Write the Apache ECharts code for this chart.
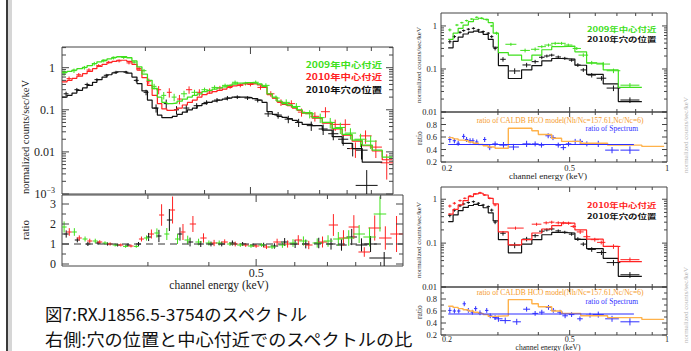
<!DOCTYPE html>
<html><head><meta charset="utf-8">
<script src="https://cdn.jsdelivr.net/npm/echarts@6.0.0/dist/echarts.min.js"></script>
<style>html,body{margin:0;padding:0;background:#fff;overflow:hidden}#chart{width:691px;height:351px}</style>
</head><body><div id="chart"></div>
<script>
// ================= DATA =================
// ---- left big panel (channel energy keV) ----
const leftEdges = [0.200,0.205,0.210,0.215,0.221,0.226,0.232,0.237,0.243,0.249,0.255,0.261,0.268,0.274,0.281,0.288,0.295,0.303,0.310,0.318,0.325,0.333,0.342,0.350,0.359,0.368,0.377,0.386,0.395,0.405,0.415,0.425,0.436,0.446,0.457,0.469,0.480,0.492,0.504,0.517,0.529,0.542,0.556,0.569,0.583,0.598,0.613,0.628,0.643,0.675,0.709,0.744,0.781,0.820,0.861,0.904,0.949,0.996];
const greenModel = [0.78,0.82,0.88,0.95,1.02,1.12,1.25,1.38,1.5,1.62,1.75,1.82,1.82,1.72,1.45,1.05,0.7,0.5,0.32,0.2,0.15,0.14,0.145,0.16,0.18,0.2,0.22,0.24,0.27,0.29,0.31,0.33,0.35,0.38,0.41,0.43,0.44,0.44,0.43,0.41,0.36,0.24,0.2,0.16,0.14,0.13,0.115,0.1,0.085,0.065,0.05,0.036,0.026,0.019,0.0145,0.011,0.0075];
const redModel = [0.46,0.5,0.56,0.63,0.72,0.82,0.95,1.07,1.2,1.32,1.42,1.5,1.5,1.42,1.2,0.88,0.58,0.38,0.22,0.14,0.105,0.097,0.1,0.11,0.13,0.15,0.17,0.2,0.23,0.25,0.27,0.29,0.31,0.34,0.37,0.39,0.41,0.42,0.41,0.39,0.34,0.23,0.19,0.155,0.135,0.125,0.11,0.097,0.083,0.063,0.048,0.035,0.025,0.018,0.014,0.0105,0.0065];
const blackModel = [0.2,0.22,0.25,0.29,0.33,0.38,0.45,0.52,0.6,0.68,0.75,0.8,0.8,0.74,0.6,0.42,0.28,0.17,0.11,0.075,0.065,0.065,0.07,0.078,0.088,0.1,0.11,0.125,0.14,0.15,0.16,0.17,0.18,0.19,0.2,0.2,0.2,0.195,0.185,0.17,0.15,0.09,0.078,0.07,0.066,0.062,0.056,0.05,0.045,0.042,0.033,0.023,0.016,0.012,0.0057,0.0057,null];

const greenE = [0.202,0.212,0.223,0.234,0.245,0.257,0.270,0.284,0.298,0.313,0.328,0.345,0.362,0.381,0.400,0.420,0.442,0.464,0.488,0.513,0.539,0.566,0.595,0.625,0.667,0.702,0.737,0.774,0.813,0.854,0.897];
const greenV = [0.75,0.85,1.0,1.25,1.45,1.7,1.75,1.35,0.85,0.36,0.22,0.2,0.24,0.26,0.3,0.34,0.38,0.45,0.42,0.45,0.38,0.19,0.15,0.12,0.08,0.065,0.05,0.038,0.028,0.02,0.018];
const greenErr = [0.15,0.12,0.1,0.1,0.08,0.08,0.08,0.08,0.1,0.15,0.2,0.2,0.18,0.15,0.12,0.12,0.1,0.1,0.1,0.1,0.12,0.15,0.18,0.2,0.22,0.25,0.28,0.3,0.3,0.35,0.35];
const greenW = [0.012,0.012,0.012,0.012,0.012,0.012,0.012,0.012,0.012,0.012,0.012,0.012,0.015,0.015,0.015,0.015,0.015,0.015,0.015,0.015,0.018,0.018,0.018,0.02,0.022,0.022,0.025,0.025,0.028,0.03,0.03];
const greenRatio = [1.85,1.6,1.25,1.15,1.05,0.95,0.88,0.88,1.3,1.55,1.5,1.25,1.2,1.1,1.05,1.05,1.0,0.95,0.9,0.95,0.85,0.95,1.05,1.15,1.05,1.15,1.25,1.3,1.5,1.35,2.5];

const redE = [0.207,0.217,0.228,0.239,0.251,0.264,0.277,0.291,0.305,0.320,0.337,0.354,0.371,0.390,0.410,0.431,0.453,0.476,0.500,0.525,0.552,0.580,0.610,0.641,0.684,0.720,0.755,0.793,0.833,0.875,0.920,0.970];
const redV = [0.55,0.68,0.88,1.12,1.35,1.45,1.3,0.95,0.48,0.3,0.26,0.18,0.3,0.26,0.28,0.33,0.36,0.38,0.4,0.34,0.24,0.15,0.14,0.088,0.07,0.09,0.045,0.045,0.012,0.024,0.013,0.0055];
const redErr = [0.12,0.1,0.1,0.08,0.08,0.08,0.08,0.1,0.15,0.22,0.25,0.25,0.2,0.18,0.15,0.12,0.12,0.1,0.1,0.12,0.15,0.18,0.2,0.22,0.25,0.28,0.3,0.32,0.4,0.35,0.45,0.6];
const redW = [0.012,0.012,0.012,0.012,0.012,0.012,0.012,0.012,0.012,0.012,0.012,0.012,0.015,0.015,0.015,0.015,0.015,0.015,0.015,0.015,0.018,0.018,0.018,0.018,0.022,0.022,0.025,0.025,0.028,0.03,0.03,0.03];
const redRatio = [1.6,1.3,1.15,1.1,1.0,0.95,0.9,1.25,1.5,2.45,2.7,1.6,2.0,1.3,1.05,1.1,1.0,0.95,0.9,0.85,1.1,1.0,1.2,0.95,1.1,1.95,1.3,1.85,0.6,1.8,1.3,1.5];

const blackE = [0.204,0.215,0.226,0.237,0.248,0.260,0.273,0.287,0.301,0.316,0.332,0.349,0.366,0.385,0.404,0.425,0.447,0.469,0.493,0.518,0.545,0.572,0.601,0.632,0.672,0.712,0.748,0.785,0.822,0.858];
const blackV = [0.24,0.3,0.4,0.52,0.66,0.78,0.78,0.5,0.26,0.11,0.14,0.1,0.11,0.125,0.15,0.17,0.19,0.2,0.19,0.17,0.08,0.075,0.06,0.05,0.042,0.035,0.027,0.02,0.012,0.011];
const blackErr = [0.12,0.1,0.1,0.08,0.08,0.08,0.08,0.1,0.15,0.22,0.25,0.22,0.2,0.15,0.12,0.12,0.12,0.1,0.1,0.12,0.15,0.18,0.2,0.22,0.25,0.28,0.3,0.3,0.35,0.4];
const blackW = [0.012,0.012,0.012,0.012,0.012,0.012,0.012,0.012,0.012,0.012,0.012,0.012,0.015,0.015,0.015,0.015,0.015,0.015,0.015,0.015,0.018,0.018,0.018,0.018,0.022,0.022,0.025,0.025,0.028,0.03];
const blackRatio = [1.5,1.2,1.0,1.05,1.0,0.95,0.95,1.0,1.35,1.4,2.2,1.5,1.1,1.0,1.0,1.0,1.05,1.0,0.95,0.95,0.9,1.1,1.0,1.0,1.05,1.0,0.95,1.35,0.95,1.0];
// the single wide black point (low, centre, high)
const blackBigE = [0.834,0.88,0.928];
const blackBigV = [0.0004,0.0016,0.0037];
const blackBigRE = [0.853,0.915,0.948];
const blackBigR = [-0.2,0.3,0.6];
const refLineE = [0.2,1.0];
const refLevel = 1;

// ---- right panels ----
const rEdges = [0.2105,0.218,0.226,0.234,0.243,0.252,0.261,0.270,0.280,0.290,0.301,0.323,0.355,0.382,0.410,0.440,0.472,0.519,0.564,0.635,0.707,0.836];
const greenModelR = [0.49,0.68,0.88,1.05,1.26,1.43,1.51,1.43,1.19,0.68,0.24,0.21,0.16,0.21,0.28,0.33,0.34,0.25,0.136,0.095,0.0375];
const blackModelR = [0.31,0.44,0.55,0.65,0.72,0.76,0.72,0.64,0.49,0.32,0.12,0.06,0.095,0.12,0.155,0.175,0.17,0.122,0.075,0.045,0.0175];
const redModelR = [0.46,0.59,0.74,0.93,1.15,1.32,1.37,1.25,1.05,0.78,0.18,0.091,0.12,0.17,0.21,0.25,0.285,0.2,0.123,0.084,0.038];

const greenER = [0.213,0.224,0.232,0.240,0.249,0.258,0.267,0.277,0.287,0.297,0.329,0.364,0.391,0.410,0.430,0.451,0.472,0.495,0.526,0.551,0.585,0.635,0.683,0.768];
const greenVR = [0.81,1.05,1.19,1.33,1.45,1.59,1.51,1.4,1.0,0.68,0.375,0.27,0.287,0.33,0.36,0.395,0.395,0.36,0.30,0.21,0.14,0.13,0.091,0.042];
const greenErrR = [0.08,0.06,0.05,0.05,0.05,0.05,0.05,0.05,0.06,0.08,0.08,0.1,0.1,0.08,0.08,0.08,0.08,0.08,0.08,0.1,0.1,0.12,0.12,0.12];
const greenWR = [0.012,0.012,0.012,0.012,0.012,0.012,0.012,0.012,0.012,0.012,0.04,0.035,0.03,0.03,0.03,0.03,0.03,0.03,0.03,0.035,0.04,0.05,0.05,0.07];

const blackER = [0.213,0.220,0.229,0.235,0.243,0.252,0.261,0.270,0.280,0.287,0.294,0.311,0.338,0.368,0.391,0.410,0.425,0.440,0.461,0.483,0.507,0.530,0.551,0.585,0.627,0.683,0.768];
const blackVR = [0.43,0.565,0.71,0.78,0.84,0.88,0.81,0.74,0.68,0.565,0.30,0.168,0.09,0.124,0.148,0.187,0.2,0.21,0.19,0.177,0.16,0.124,0.095,0.072,0.061,0.036,0.019];
const blackErrR = [0.1,0.08,0.07,0.06,0.06,0.06,0.06,0.06,0.06,0.08,0.1,0.12,0.15,0.12,0.1,0.1,0.08,0.08,0.08,0.08,0.08,0.1,0.1,0.12,0.12,0.15,0.15];
const blackWR = [0.012,0.012,0.012,0.012,0.012,0.012,0.012,0.012,0.012,0.012,0.012,0.02,0.04,0.03,0.025,0.02,0.02,0.02,0.02,0.02,0.02,0.02,0.02,0.03,0.035,0.05,0.07];

const redER = [0.213,0.220,0.229,0.237,0.246,0.255,0.264,0.273,0.283,0.294,0.340,0.395,0.423,0.440,0.461,0.478,0.496,0.513,0.539,0.565,0.598,0.626,0.683,0.768];
const redVR = [0.70,0.81,0.93,1.05,1.19,1.32,1.41,1.25,1.05,0.74,0.22,0.27,0.29,0.30,0.29,0.29,0.285,0.24,0.18,0.14,0.12,0.104,0.084,0.042];
const redErrR = [0.08,0.07,0.06,0.05,0.05,0.05,0.05,0.05,0.05,0.07,0.08,0.08,0.08,0.08,0.08,0.08,0.08,0.08,0.1,0.1,0.1,0.1,0.12,0.12];
const redWR = [0.012,0.012,0.012,0.012,0.012,0.012,0.012,0.012,0.012,0.012,0.06,0.035,0.02,0.02,0.02,0.02,0.02,0.02,0.025,0.025,0.03,0.03,0.05,0.07];

const orangeEdges = [0.2105,0.218,0.226,0.234,0.243,0.252,0.261,0.270,0.280,0.294,0.323,0.382,0.400,0.440,0.472,0.541,0.655,0.836,0.98];
const orangeB = [0.59,0.57,0.55,0.54,0.52,0.5,0.48,0.46,0.44,0.42,0.74,0.70,0.64,0.58,0.53,0.50,0.47,0.45];
const orangeD = [0.68,0.66,0.64,0.62,0.6,0.58,0.56,0.54,0.51,0.52,0.79,0.72,0.67,0.6,0.56,0.52,0.49,0.46];

const blueEB = [0.213,0.220,0.226,0.235,0.240,0.246,0.251,0.258,0.273,0.283,0.294,0.312,0.335,0.368,0.391,0.409,0.429,0.444,0.461,0.478,0.496,0.520,0.539,0.565,0.613,0.676,0.768];
const blueVB = [0.56,0.54,0.50,0.61,0.56,0.54,0.54,0.52,0.56,0.43,0.49,0.47,0.44,0.49,0.49,0.47,0.62,0.59,0.47,0.43,0.49,0.53,0.53,0.49,0.49,0.39,0.39];
const blueED = [0.213,0.220,0.227,0.236,0.243,0.250,0.256,0.264,0.277,0.284,0.294,0.301,0.316,0.343,0.368,0.391,0.410,0.430,0.445,0.467,0.484,0.507,0.538,0.578,0.613,0.676,0.768];
const blueVD = [0.61,0.60,0.60,0.72,0.61,0.58,0.64,0.57,0.61,0.52,0.49,0.47,0.44,0.42,0.63,0.56,0.58,0.66,0.61,0.58,0.52,0.54,0.47,0.53,0.54,0.47,0.42];
const blueErr = [0.05,0.04,0.04,0.04,0.04,0.04,0.04,0.04,0.04,0.04,0.04,0.05,0.05,0.05,0.04,0.04,0.04,0.04,0.04,0.04,0.04,0.04,0.04,0.04,0.05,0.05,0.06];
const blueW = [0.012,0.012,0.012,0.012,0.012,0.012,0.012,0.012,0.012,0.015,0.02,0.03,0.04,0.03,0.025,0.02,0.02,0.02,0.02,0.02,0.02,0.02,0.02,0.03,0.04,0.05,0.07];
const blueLineE = [0.2105,0.79];
const blueLevelB = 0.48;
const blueLevelD = 0.55;

// legend labels
const legendLeft = ['2009年中心付近', '2010年中心付近', '2010年穴の位置'];
const legendA = ['2009年中心付近', '2010年穴の位置'];
const legendC = ['2010年中心付近', '2010年穴の位置'];

// axis tick values
const xMajorTicks = [0.5];
const xMinorTicks = [0.3,0.4,0.6,0.7,0.8,0.9];
const mult = [2,3,4,5,6,7,8,9];
const decadesLeft = [0.001,0.01,0.1,1];
const decadesRight = [0.01,0.1,1];

// ================= CHART =================
const SERIF = '"Liberation Serif", "Times New Roman", serif';
const CJK = '"Noto Sans CJK JP", sans-serif';
const C_GREEN = '#3fe01c', C_RED = '#ff2222', C_BLACK = '#111', C_ORANGE = '#ffb24a', C_BLUE = '#2f2fff', C_AX = '#444';

function minorLog(decs, maxV) {
  const out = [];
  decs.forEach(d => mult.forEach(m => { const v = m * d; if (v < maxV) out.push(v); }));
  return out;
}
function stepData(edges, vals) {
  const out = [];
  for (let i = 0; i < vals.length; i++) {
    const v = vals[i];
    if (v == null) { out.push([edges[i], '-']); continue; }
    out.push([edges[i], v]);
    if (i === vals.length - 1 || vals[i + 1] == null) { out.push([edges[i + 1], v]); out.push([edges[i + 1], '-']); }
  }
  return out;
}
function buildRel(E, V, W, R, floor) {
  return E.map((e, i) => [e, V[i], e / (1 + W[i]), e * (1 + W[i]), Math.max(V[i] * (1 - R[i]), floor), V[i] * (1 + R[i])]);
}
function buildAbs(E, V, W, A) {
  return E.map((e, i) => [e, V[i], e / (1 + W[i]), e * (1 + W[i]), V[i] - A[i], V[i] + A[i]]);
}
function crosses(gi, items, color, lw) {
  return {
    type: 'custom', xAxisIndex: gi, yAxisIndex: gi, clip: true, silent: true, animation: false,
    data: items, encode: { x: 0, y: 1 },
    renderItem(params, api) {
      const c = api.coord([api.value(0), api.value(1)]);
      const l = api.coord([api.value(2), api.value(1)]);
      const r = api.coord([api.value(3), api.value(1)]);
      const b = api.coord([api.value(0), api.value(4)]);
      const t = api.coord([api.value(0), api.value(5)]);
      const st = { stroke: color, lineWidth: lw || 1 };
      return { type: 'group', children: [
        { type: 'line', shape: { x1: l[0], y1: c[1], x2: r[0], y2: c[1] }, style: st },
        { type: 'line', shape: { x1: c[0], y1: b[1], x2: c[0], y2: t[1] }, style: st }
      ] };
    }
  };
}
function step(gi, edges, vals, color, w) {
  return { type: 'line', xAxisIndex: gi, yAxisIndex: gi, step: 'end', symbol: 'none', silent: true,
    data: stepData(edges, vals), lineStyle: { color: color, width: w }, animation: false };
}
function hline(gi, E, level, color, w, dash) {
  return { type: 'line', xAxisIndex: gi, yAxisIndex: gi, symbol: 'none', silent: true,
    data: [[E[0], level], [E[1], level]], lineStyle: { color: color, width: w, type: dash || 'solid' }, animation: false };
}
function ticks(gi, xRef, yRef, yMaj, yMin, lMaj, lMin) {
  const data = [];
  xMajorTicks.forEach(v => data.push([v, yRef, 0]));
  xMinorTicks.forEach(v => data.push([v, yRef, 1]));
  yMaj.forEach(v => data.push([xRef, v, 2]));
  yMin.forEach(v => data.push([xRef, v, 3]));
  return { type: 'custom', xAxisIndex: gi, yAxisIndex: gi, silent: true, clip: false, animation: false,
    data: data, encode: { x: 0, y: 1 },
    renderItem(params, api) {
      const cs = params.coordSys, k = api.value(2);
      const p = api.coord([api.value(0), api.value(1)]);
      const L = (k === 0 || k === 2) ? lMaj : lMin;
      let segs;
      if (k < 2) segs = [[p[0], cs.y + cs.height, p[0], cs.y + cs.height - L], [p[0], cs.y, p[0], cs.y + L]];
      else segs = [[cs.x, p[1], cs.x + L, p[1]], [cs.x + cs.width, p[1], cs.x + cs.width - L, p[1]]];
      return { type: 'group', children: segs.map(s => ({ type: 'line', shape: { x1: s[0], y1: s[1], x2: s[2], y2: s[3] }, style: { stroke: C_AX, lineWidth: 1 } })) };
    } };
}
function xLabels(gi, yRef, vals, texts, dxs, font, dy) {
  return { type: 'custom', xAxisIndex: gi, yAxisIndex: gi, silent: true, clip: false, animation: false,
    data: vals.map((v, i) => [v, yRef, i]), encode: { x: 0, y: 1 },
    renderItem(params, api) {
      const cs = params.coordSys, i = api.value(2);
      const p = api.coord([api.value(0), api.value(1)]);
      return { type: 'text', x: p[0] + dxs[i], y: cs.y + cs.height + dy,
        style: { text: texts[i], font: font, fill: '#222', align: 'center', verticalAlign: 'top', textAlign: 'center', textVerticalAlign: 'top' } };
    } };
}
function txt(x, y, text, font, fill, align, rot, lh, sx) {
  const st = { text: text, font: font, fill: fill, align: align || 'left', verticalAlign: 'middle', textAlign: align || 'left', textVerticalAlign: 'middle' };
  if (lh) st.lineHeight = lh;
  const el = { type: 'text', x: x, y: y, rotation: rot || 0, silent: true, style: st };
  if (sx) { el.scaleX = sx; }
  return el;
}
// stacked, horizontally widened bold legend labels
function legendLines(x, y0, gap, lines, colors, size, sx, align) {
  return lines.map((s, i) => txt(x, y0 + i * gap, s, 'bold ' + size + 'px ' + CJK, colors[i], align, 0, size, sx));
}

const gridDefs = [
  { left: 62, top: 47, width: 331, height: 147 },
  { left: 62, top: 195, width: 341, height: 71 },
  { left: 441, top: 13, width: 226, height: 99 },
  { left: 441, top: 112, width: 226, height: 50 },
  { left: 441, top: 187, width: 226, height: 100 },
  { left: 441, top: 287, width: 226, height: 48 }
];
const grid = gridDefs.map(g => Object.assign({ show: true, borderColor: C_AX, borderWidth: 1, backgroundColor: 'transparent' }, g));
const xAxis = gridDefs.map((g, i) => ({ gridIndex: i, type: 'log', logBase: 10, min: 0.2, max: 1.0,
  axisLine: { show: false }, axisTick: { show: false }, axisLabel: { show: false }, splitLine: { show: false } }));

function logLabel(v) {
  const e = Math.round(Math.log10(v));
  if (e === -3) return '10{s|−3}';
  return ({ 0: '1', '-1': '0.1', '-2': '0.01' })[e] || '';
}
const yLogBase = { type: 'log', logBase: 10, axisLine: { show: false }, axisTick: { show: false }, splitLine: { show: false } };
const yAxis = [
  Object.assign({}, yLogBase, { gridIndex: 0, min: 0.001, max: 3.1,
    axisLabel: { showMaxLabel: false, margin: 7, fontFamily: SERIF, fontSize: 12, color: '#222', formatter: logLabel,
      rich: { s: { fontSize: 8, fontFamily: SERIF, color: '#222', padding: [0, 0, 7, 0] } } } }),
  { gridIndex: 1, type: 'value', min: -0.1, max: 3.45, splitNumber: 4, axisLine: { show: false }, axisTick: { show: false }, splitLine: { show: false },
    axisLabel: { showMinLabel: false, showMaxLabel: false, margin: 6, fontFamily: SERIF, fontSize: 12, color: '#222' } },
  Object.assign({}, yLogBase, { gridIndex: 2, min: 0.01, max: 2.0,
    axisLabel: { showMaxLabel: false, margin: 4, fontFamily: SERIF, fontSize: 8.5, color: '#222', formatter: logLabel } }),
  { gridIndex: 3, type: 'value', min: 0.2, max: 1.0, interval: 0.2, axisLine: { show: false }, axisTick: { show: false }, splitLine: { show: false },
    axisLabel: { showMaxLabel: false, margin: 4, fontFamily: SERIF, fontSize: 8.5, color: '#222', formatter: v => v.toFixed(1) } },
  Object.assign({}, yLogBase, { gridIndex: 4, min: 0.01, max: 1.9,
    axisLabel: { showMaxLabel: false, margin: 4, fontFamily: SERIF, fontSize: 8.5, color: '#222', formatter: logLabel } }),
  { gridIndex: 5, type: 'value', min: 0.2, max: 1.0, interval: 0.2, axisLine: { show: false }, axisTick: { show: false }, splitLine: { show: false },
    axisLabel: { showMaxLabel: false, margin: 4, fontFamily: SERIF, fontSize: 8.5, color: '#222', formatter: v => v.toFixed(1) } }
];

const series = [];
// left spectrum
series.push(crosses(0, buildRel(blackE, blackV, blackW, blackErr, 1e-4), C_BLACK));
series.push(crosses(0, [[blackBigE[1], blackBigV[1], blackBigE[0], blackBigE[2], blackBigV[0], blackBigV[2]]], C_BLACK));
series.push(crosses(0, buildRel(redE, redV, redW, redErr, 1e-4), C_RED));
series.push(crosses(0, buildRel(greenE, greenV, greenW, greenErr, 1e-4), C_GREEN));
series.push(step(0, leftEdges, blackModel, C_BLACK, 1.2));
series.push(step(0, leftEdges, redModel, C_RED, 1.2));
series.push(step(0, leftEdges, greenModel, C_GREEN, 1.3));
series.push(ticks(0, 0.2, 0.001, decadesLeft, minorLog(decadesLeft, 3.1), 7, 4));
// left ratio
series.push(hline(1, refLineE, refLevel, '#333', 1, [7, 5]));
series.push(crosses(1, buildRel(blackE, blackRatio, blackW, blackErr, -1), C_BLACK));
series.push(crosses(1, [[blackBigRE[1], blackBigR[1], blackBigRE[0], blackBigRE[2], blackBigR[0], blackBigR[2]]], C_BLACK));
series.push(crosses(1, buildRel(redE, redRatio, redW, redErr, -1), C_RED));
series.push(crosses(1, buildRel(greenE, greenRatio, greenW, greenErr, -1), C_GREEN));
series.push(ticks(1, 0.2, 0, [0, 1, 2, 3], [0.5, 1.5, 2.5], 7, 4));
series.push(xLabels(1, 0, [0.5], ['0.5'], [0], '12px ' + SERIF, 1));
// right A
series.push(crosses(2, buildRel(blackER, blackVR, blackWR, blackErrR, 1e-3), C_BLACK));
series.push(crosses(2, buildRel(greenER, greenVR, greenWR, greenErrR, 1e-3), C_GREEN));
series.push(step(2, rEdges, blackModelR, C_BLACK, 1.2));
series.push(step(2, rEdges, greenModelR, C_GREEN, 1.2));
series.push(ticks(2, 0.2, 0.01, decadesRight, minorLog(decadesRight, 2.0), 5, 3));
// right B
series.push(step(3, orangeEdges, orangeB, C_ORANGE, 1.4));
series.push(hline(3, blueLineE, blueLevelB, C_BLUE, 1.2));
series.push(crosses(3, buildAbs(blueEB, blueVB, blueW, blueErr), C_BLUE));
series.push(ticks(3, 0.2, 0.2, [0.2, 0.4, 0.6, 0.8, 1.0], [0.3, 0.5, 0.7, 0.9], 5, 3));
series.push(xLabels(3, 0.5, [0.2, 0.5, 1.0], ['0.2', '0.5', '1'], [6, 0, 0], '8.5px ' + SERIF, 1));
// right C
series.push(crosses(4, buildRel(blackER, blackVR, blackWR, blackErrR, 1e-3), C_BLACK));
series.push(crosses(4, buildRel(redER, redVR, redWR, redErrR, 1e-3), C_RED));
series.push(step(4, rEdges, blackModelR, C_BLACK, 1.2));
series.push(step(4, rEdges, redModelR, C_RED, 1.2));
series.push(ticks(4, 0.2, 0.01, decadesRight, minorLog(decadesRight, 1.9), 5, 3));
// right D
series.push(step(5, orangeEdges, orangeD, C_ORANGE, 1.4));
series.push(hline(5, blueLineE, blueLevelD, C_BLUE, 1.2));
series.push(crosses(5, buildAbs(blueED, blueVD, blueW, blueErr), C_BLUE));
series.push(ticks(5, 0.2, 0.2, [0.2, 0.4, 0.6, 0.8, 1.0], [0.3, 0.5, 0.7, 0.9], 5, 3));
series.push(xLabels(5, 0.5, [0.2, 0.5, 1.0], ['0.2', '0.5', '1'], [6, 0, 0], '8px ' + SERIF, 0.5));

const R90 = Math.PI / 2;
const graphic = [
  { type: 'rect', shape: { x: 6, y: 0, width: 2, height: 351 }, style: { fill: '#3a3a3a' }, silent: true },
  { type: 'rect', shape: { x: 8, y: 0, width: 4, height: 351 }, style: { fill: '#d6d6d6' }, silent: true },
  // left panel texts
  txt(25, 137, 'normalized counts/sec/keV', '10.5px ' + SERIF, '#222', 'center', R90),
  txt(25, 230, 'ratio', '11px ' + SERIF, '#222', 'center', R90),
  txt(219, 285, 'channel energy (keV)', '11.5px ' + SERIF, '#222', 'center'),
  // captions
  txt(45, 313.5, '図7:RXJ1856.5-3754のスペクトル', '17px ' + CJK, '#111', 'left', 0, 17, 1.02),
  txt(45, 338.5, '右側:穴の位置と中心付近でのスペクトルの比', '17px ' + CJK, '#111', 'left', 0, 17, 1.07),
  // right panel texts
  txt(419, 65, 'normalized counts/sec/keV', '7px ' + SERIF, '#333', 'center', R90),
  txt(419, 138, 'ratio', '7.5px ' + SERIF, '#333', 'center', R90),
  txt(419, 240, 'normalized counts/sec/keV', '7px ' + SERIF, '#333', 'center', R90),
  txt(419, 312, 'ratio', '7.5px ' + SERIF, '#333', 'center', R90),
  txt(560, 120, 'ratio of CALDB HCO model(Nh/Nc=157.61,Nc/Nc=6)', '7.5px ' + SERIF, '#f59a2a', 'center'),
  txt(638, 128, 'ratio of Spectrum', '7.5px ' + SERIF, C_BLUE, 'right'),
  txt(560, 292, 'ratio of CALDB HCO model(Nh/Nc=157.61,Nc/Nc=6)', '7.5px ' + SERIF, '#f59a2a', 'center'),
  txt(638, 301, 'ratio of Spectrum', '7.5px ' + SERIF, C_BLUE, 'right'),
  txt(548, 176, 'channel energy (keV)', '9px ' + SERIF, '#222', 'center'),
  txt(548, 347.3, 'channel energy (keV)', '7.5px ' + SERIF, '#222', 'center', 0, 7.5),
  // faint neighbouring panel labels at far right
  txt(686, 135, 'normalized counts/sec/keV', '7px ' + SERIF, '#b5b5b5', 'center', R90),
  txt(686, 305, 'normalized counts/sec/keV', '7px ' + SERIF, '#b5b5b5', 'center', R90)
].concat(
  legendLines(382, 64.3, 12.5, legendLeft, [C_GREEN, C_RED, C_BLACK], 8.5, 1.22, 'right'),
  legendLines(587, 28.3, 10.3, legendA, [C_GREEN, C_BLACK], 7, 1.35, 'left'),
  legendLines(587, 205, 10.6, legendC, [C_RED, C_BLACK], 7, 1.35, 'left')
);

const chart = echarts.init(document.getElementById('chart'), null, { renderer: 'svg' });
chart.setOption({
  animation: false,
  backgroundColor: '#fff',
  textStyle: { fontFamily: SERIF },
  grid: grid, xAxis: xAxis, yAxis: yAxis, series: series, graphic: graphic
});
</script></body></html>
